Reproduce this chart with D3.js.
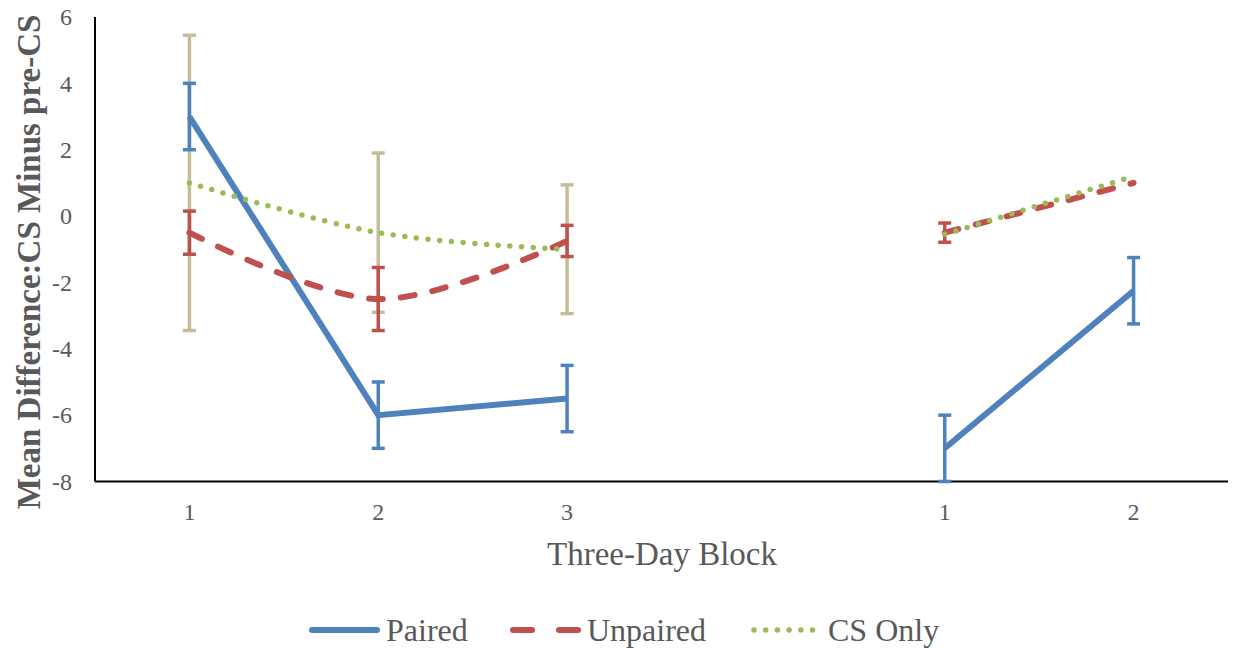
<!DOCTYPE html>
<html>
<head>
<meta charset="utf-8">
<script src="https://cdn.jsdelivr.net/npm/d3@7/dist/d3.min.js"></script>
<style>
  body { margin: 0; background: #fff; }
  svg text { font-family: "Liberation Serif", "DejaVu Serif", serif; fill: #595959; }
  .axis path, .axis line { display: none; }
</style>
</head>
<body>
<div id="chart"></div>
<script>
// data
var blockLabels = ["1", "2", "3", "", "1", "2"];
var paired      = [3.0, -6.0, -5.5, null, -7.0, -2.25];
var pairedErr   = [1.0, 1.0, 1.0, null, 1.0, 1.0];
var unpaired    = [-0.5, -2.5, -0.75, null, -0.5, 1.0];
var unpairedErr = [0.65, 0.95, 0.47, null, 0.29, 0];
var csOnly      = [1.0, -0.5, -1.0, null, -0.55, 1.2];
var csOnlyErr   = [4.45, 2.4, 1.94, null, 0, 0];
var yTicks = [-8, -6, -4, -2, 0, 2, 4, 6];

var width = 1233, height = 648;
var margin = {top: 17, right: 5, bottom: 166.5, left: 95};
var w = width - margin.left - margin.right;
var h = height - margin.top - margin.bottom;

var svg = d3.select("#chart").append("svg").attr("width", width).attr("height", height);
var g = svg.append("g").attr("transform", "translate(" + margin.left + "," + margin.top + ")");

var x = d3.scaleBand().domain(d3.range(blockLabels.length)).range([0, w]);
var y = d3.scaleLinear().domain([-8, 6]).range([h, 0]);
function cx(i) { return x(i) + x.bandwidth() / 2; }

// axes
var yAxis = d3.axisLeft(y).tickValues(yTicks).tickSize(0).tickPadding(23).tickFormat(function(d) { return String(d); });
g.append("g").attr("class", "y axis").call(yAxis)
  .selectAll("text").style("font-size", "24px");
var xAxis = d3.axisBottom(x).tickSize(0).tickPadding(21).tickFormat(function(i) { return blockLabels[i]; });
g.append("g").attr("class", "x axis").attr("transform", "translate(0," + h + ")").call(xAxis)
  .selectAll("text").style("font-size", "24px");

g.append("line").attr("x1", 0).attr("x2", 0).attr("y1", 0).attr("y2", h)
  .attr("stroke", "#000").attr("stroke-width", 2);
g.append("line").attr("x1", 0).attr("x2", w).attr("y1", h).attr("y2", h)
  .attr("stroke", "#000").attr("stroke-width", 2);

// titles
svg.append("text").attr("x", 662).attr("y", 565).attr("text-anchor", "middle")
  .style("font-size", "33px").text("Three-Day Block");
svg.append("text").attr("transform", "translate(40,262) rotate(-90)").attr("text-anchor", "middle")
  .style("font-size", "33px").style("font-weight", "bold").text("Mean Difference:CS Minus pre-CS");

var series = [
  {name: "Paired", vals: paired, err: pairedErr, color: "#4F81BD", errColor: "#4F81BD", dash: null, curve: d3.curveLinear},
  {name: "Unpaired", vals: unpaired, err: unpairedErr, color: "#C0504D", errColor: "#C0504D", dash: "14,18", curve: d3.curveCatmullRom.alpha(0)},
  {name: "CS Only", vals: csOnly, err: csOnlyErr, color: "#9BBB59", errColor: "#C4BD97", dash: "0,11.7", curve: d3.curveCatmullRom.alpha(0)}
];

// error bars (drawn under lines)
series.slice().reverse().forEach(function(s) {
  var eg = g.append("g").attr("stroke", s.errColor).attr("stroke-width", 3.5);
  s.vals.forEach(function(v, i) {
    if (v == null || !s.err[i]) return;
    var lo = y(v - s.err[i]), hi = y(v + s.err[i]);
    eg.append("line").attr("x1", cx(i)).attr("x2", cx(i)).attr("y1", lo).attr("y2", hi);
    eg.append("line").attr("x1", cx(i) - 6.5).attr("x2", cx(i) + 6.5).attr("y1", lo).attr("y2", lo);
    eg.append("line").attr("x1", cx(i) - 6.5).attr("x2", cx(i) + 6.5).attr("y1", hi).attr("y2", hi);
  });
});

// lines
series.forEach(function(s) {
  var line = d3.line()
    .defined(function(d) { return d != null; })
    .x(function(d, i) { return cx(i); })
    .y(function(d) { return y(d); })
    .curve(s.curve);
  g.append("path").datum(s.vals)
    .attr("d", line)
    .attr("fill", "none")
    .attr("stroke", s.color)
    .attr("stroke-width", s.name == "CS Only" ? 5.5 : 6)
    .attr("stroke-linecap", s.dash ? "round" : "butt")
    .attr("stroke-dasharray", s.dash);
});

// legend
var legendX = [309, 510, 751];
var lg = svg.append("g").attr("transform", "translate(0,630)");
series.forEach(function(s, i) {
  var lx = legendX[i];
  lg.append("line").attr("x1", lx + 3).attr("x2", lx + 68).attr("y1", 0).attr("y2", 0)
    .attr("stroke", s.color).attr("stroke-width", s.name == "CS Only" ? 5.5 : 6)
    .attr("stroke-linecap", "round")
    .attr("stroke-dasharray", s.name == "Unpaired" ? "19,27" : (s.dash ? "0,11.7" : null));
  lg.append("text").attr("x", lx + 77).attr("y", 11).style("font-size", "32px").text(s.name);
});
</script>
</body>
</html>
